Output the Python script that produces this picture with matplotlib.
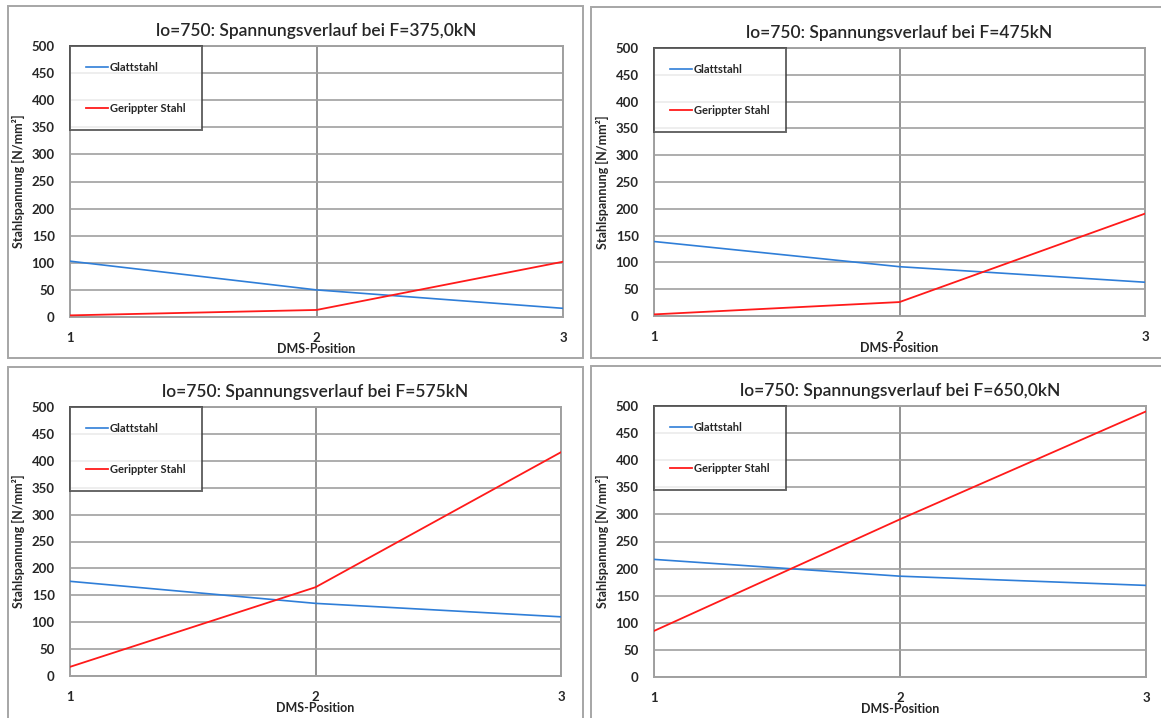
import matplotlib
matplotlib.use("Agg")
import matplotlib.pyplot as plt
from matplotlib.patches import Rectangle

# ---- data ----
positions = [1, 2, 3]
titles = [
    "lo=750: Spannungsverlauf bei F=375,0kN",
    "lo=750: Spannungsverlauf bei F=475kN",
    "lo=750: Spannungsverlauf bei F=575kN",
    "lo=750: Spannungsverlauf bei F=650,0kN",
]
glattstahl_375 = [103, 50, 16]
gerippt_375 = [3, 13, 102]
glattstahl_475 = [139, 92, 63]
gerippt_475 = [3, 26, 191]
glattstahl_575 = [176, 135, 110]
gerippt_575 = [17, 165, 416]
glattstahl_650 = [217, 186, 169]
gerippt_650 = [85, 291, 490]
series_labels = ["Glattstahl", "Gerippter Stahl"]
y_ticks = [0, 50, 100, 150, 200, 250, 300, 350, 400, 450, 500]
x_label = "DMS-Position"
y_label = "Stahlspannung [N/mm²]"

glatt_all = [glattstahl_375, glattstahl_475, glattstahl_575, glattstahl_650]
gerippt_all = [gerippt_375, gerippt_475, gerippt_575, gerippt_650]

# ---- layout (pixels, top-origin) ----
W, H = 1161, 718
plt.rcParams['font.family'] = ['Lato', 'DejaVu Sans']
fig = plt.figure(figsize=(W / 100, H / 100), dpi=100)
fig.patch.set_facecolor("white")

# plot areas: left, right, top, bottom
areas = [
    (70, 563, 46, 317),
    (654, 1145, 48, 316),
    (70, 561, 407, 676),
    (654, 1146, 406, 677),
]
frames = [
    (8, 583, 6, 358),
    (591, 1162, 7, 358),
    (8, 583, 367, 720),
    (591, 1162, 366, 720),
]

def fx(px):
    return px / W

def fy(py):
    return 1 - py / H

for (l, r, t, b) in frames:
    fig.patches.append(Rectangle((fx(l), fy(b)), fx(r) - fx(l), fy(t) - fy(b),
                                 transform=fig.transFigure, fill=False,
                                 edgecolor="#a6a6a6", linewidth=1.4, zorder=0))

blue = "#2f7ed8"
red = "#ff1a1a"
text_col = "#262626"
grid_col = "#a0a0a0"

for i, (l, r, t, b) in enumerate(areas):
    ax = fig.add_axes([fx(l), fy(b), fx(r) - fx(l), fy(t) - fy(b)])
    ax.plot(positions, glatt_all[i], color=blue, lw=1.2, label=series_labels[0], zorder=3)
    ax.plot(positions, gerippt_all[i], color=red, lw=1.3, label=series_labels[1], zorder=3)
    ax.set_xlim(1, 3)
    ax.set_ylim(0, 500)
    ax.set_xticks(positions)
    ax.set_yticks(y_ticks)
    ax.yaxis.grid(True, color=grid_col, lw=1.2)
    ax.xaxis.grid(True, color="#808080", lw=1.2)
    ax.set_axisbelow(True)
    for s in ax.spines.values():
        s.set_color(grid_col)
        s.set_linewidth(1.4)
    ax.tick_params(axis='both', length=0, colors=text_col, labelsize=9.5)
    ax.tick_params(axis='x', pad=11)
    ax.tick_params(axis='y', pad=11)
    for lab in ax.get_xticklabels() + ax.get_yticklabels():
        lab.set_fontweight("bold")
    ax.set_xlabel(x_label, fontsize=9, fontweight="bold", color=text_col, labelpad=-1)
    ax.set_ylabel(y_label, fontsize=9, fontweight="bold", color=text_col, labelpad=5)
    ax.set_title(titles[i], fontsize=12.5, fontweight="semibold", color=text_col, pad=7)
    leg = ax.legend(loc="upper left", bbox_to_anchor=(0, 1), borderaxespad=0,
                    fancybox=False, frameon=True, edgecolor="#404040",
                    prop={"size": 8, "weight": "bold"},
                    handlelength=2.0, handletextpad=0.15, labelspacing=2.7,
                    borderpad=1.45)
    leg.get_frame().set_linewidth(1.4)
    leg.set_zorder(5)
    for txt in leg.get_texts():
        txt.set_color(text_col)

fig.savefig("out.png", dpi=100, facecolor="white")
